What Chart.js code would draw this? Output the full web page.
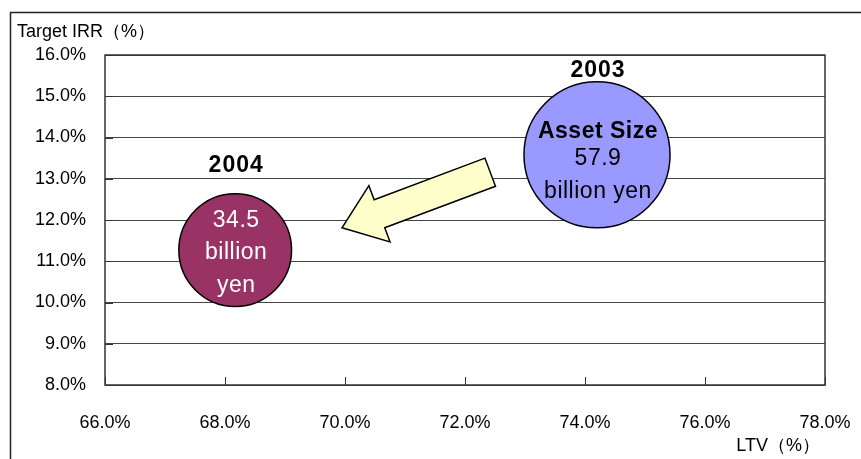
<!DOCTYPE html>
<html>
<head>
<meta charset="utf-8">
<script src="https://cdn.jsdelivr.net/npm/chart.js@4"></script>
<style>
  html, body { margin: 0; padding: 0; background: #fff; }
  #wrap { width: 861px; height: 459px; position: relative; }
</style>
</head>
<body>
<div id="wrap"><canvas id="irrChart" width="861" height="459"></canvas></div>
<script>
const years = ["2003", "2004"];
const ltv = [74.2, 68.17];            // LTV (%)
const targetIrr = [13.58, 11.27];     // Target IRR (%)
const assetSize = [57.9, 34.5];       // billion yen
const bubbleColors = ["#9999FF", "#993366"];
const insideText = [
  ["Asset Size", "57.9", "billion yen"],
  ["34.5", "billion", "yen"]
];
const xTicks = [66, 68, 70, 72, 74, 76, 78];
const yTicks = [8, 9, 10, 11, 12, 13, 14, 15, 16];
// arrow from 2003 towards 2004, in data units
const arrowFrom = { x: 72.42, y: 13.16 };
const arrowTo = { x: 69.95, y: 11.81 };

const FONT = "'Liberation Sans', Arial, sans-serif";

const decoPlugin = {
  id: "deco",
  beforeDraw(chart) {
    const ctx = chart.ctx;
    ctx.save();
    ctx.strokeStyle = "#222";
    ctx.lineWidth = 1.5;
    ctx.beginPath();
    ctx.moveTo(10.5, 459);
    ctx.lineTo(10.5, 12.5);
    ctx.lineTo(861, 12.5);
    ctx.stroke();

    ctx.fillStyle = "#000";
    ctx.font = "18px " + FONT;
    ctx.textBaseline = "middle";
    ctx.textAlign = "left";
    ctx.fillText("Target IRR（%）", 17, 32);
    ctx.textAlign = "right";
    ctx.fillText("LTV（%）", 820, 446);
    ctx.restore();
  },
  afterDatasetsDraw(chart) {
    const ctx = chart.ctx;
    const a = chart.chartArea;
    const xs = chart.scales.x, ys = chart.scales.y;
    ctx.save();

    // plot frame + inner tick marks
    ctx.strokeStyle = "#333";
    ctx.lineWidth = 1.5;
    ctx.strokeRect(a.left, a.top, a.right - a.left, a.bottom - a.top);
    ctx.lineWidth = 1;
    xTicks.forEach(t => {
      const px = Math.round(xs.getPixelForValue(t)) + 0.5;
      ctx.beginPath();
      ctx.moveTo(px, a.bottom);
      ctx.lineTo(px, a.bottom - 8);
      ctx.stroke();
    });
    yTicks.forEach(t => {
      const py = Math.round(ys.getPixelForValue(t)) + 0.5;
      ctx.beginPath();
      ctx.moveTo(a.left, py);
      ctx.lineTo(a.left + 8, py);
      ctx.stroke();
    });

    // labels on bubbles
    const meta = chart.getDatasetMeta(0);
    meta.data.forEach((el, i) => {
      ctx.textAlign = "center";
      ctx.textBaseline = "middle";
      ctx.fillStyle = "#000";
      ctx.font = "bold 23px " + FONT;
      ctx.letterSpacing = "1px";
      ctx.fillText(years[i], el.x + 1, el.y - 84);
      ctx.letterSpacing = "0.5px";
      const lines = insideText[i];
      const offs = i === 0 ? [-23, 4, 37] : [-29, 3, 36];
      lines.forEach((s, j) => {
        if (i === 0 && j === 0) {
          ctx.font = "bold 23px " + FONT;
          ctx.fillStyle = "#000";
        } else {
          ctx.font = "23px " + FONT;
          ctx.fillStyle = i === 0 ? "#000" : "#fff";
        }
        ctx.fillText(s, el.x + 1, el.y + offs[j]);
      });
    });

    // arrow
    const tx = xs.getPixelForValue(arrowTo.x), ty = ys.getPixelForValue(arrowTo.y);
    const fx = xs.getPixelForValue(arrowFrom.x), fy = ys.getPixelForValue(arrowFrom.y);
    const len = Math.hypot(fx - tx, fy - ty);
    const ux = (fx - tx) / len, uy = (fy - ty) / len;
    const nx = -uy, ny = ux;
    const headLen = 40, headHalf = 30, shaftHalf = 15;
    const bx = tx + ux * headLen, by = ty + uy * headLen;
    ctx.letterSpacing = "0px";
    ctx.beginPath();
    ctx.moveTo(tx, ty);
    ctx.lineTo(bx + nx * headHalf, by + ny * headHalf);
    ctx.lineTo(bx + nx * shaftHalf, by + ny * shaftHalf);
    ctx.lineTo(fx + nx * shaftHalf, fy + ny * shaftHalf);
    ctx.lineTo(fx - nx * shaftHalf, fy - ny * shaftHalf);
    ctx.lineTo(bx - nx * shaftHalf, by - ny * shaftHalf);
    ctx.lineTo(bx - nx * headHalf, by - ny * headHalf);
    ctx.closePath();
    ctx.fillStyle = "#FFFFCC";
    ctx.fill();
    ctx.strokeStyle = "#000";
    ctx.lineWidth = 1.5;
    ctx.stroke();
    ctx.restore();
  }
};

new Chart(document.getElementById("irrChart"), {
  type: "bubble",
  data: {
    datasets: [{
      label: "Asset Size",
      data: years.map((y, i) => ({ x: ltv[i], y: targetIrr[i], r: Math.sqrt(assetSize[i]) * 9.6 })),
      backgroundColor: bubbleColors,
      borderColor: "#000",
      borderWidth: 1.5,
      hoverRadius: 0
    }]
  },
  options: {
    responsive: false,
    animation: false,
    events: [],
    layout: { autoPadding: false, padding: { top: 55, right: 36, left: 0, bottom: 0 } },
    plugins: { legend: { display: false }, tooltip: { enabled: false } },
    scales: {
      x: {
        type: "linear",
        min: xTicks[0],
        max: xTicks[xTicks.length - 1],
        afterBuildTicks: s => { s.ticks = xTicks.map(v => ({ value: v })); },
        afterFit: s => { s.height = 74; s.paddingLeft = 0; s.paddingRight = 0; },
        grid: { display: false },
        border: { display: false },
        ticks: {
          color: "#000",
          font: { family: FONT, size: 18 },
          padding: 19,
          maxRotation: 0,
          callback: v => v.toFixed(1) + "%"
        }
      },
      y: {
        type: "linear",
        min: yTicks[0],
        max: yTicks[yTicks.length - 1],
        afterBuildTicks: s => { s.ticks = yTicks.map(v => ({ value: v })); },
        afterFit: s => { s.width = 105; s.paddingTop = 0; s.paddingBottom = 0; },
        grid: { color: "#444", lineWidth: 1, drawTicks: false },
        border: { display: false },
        ticks: {
          color: "#000",
          font: { family: FONT, size: 18 },
          padding: 19,
          callback: v => v.toFixed(1) + "%"
        }
      }
    }
  },
  plugins: [decoPlugin]
});
</script>
</body>
</html>
